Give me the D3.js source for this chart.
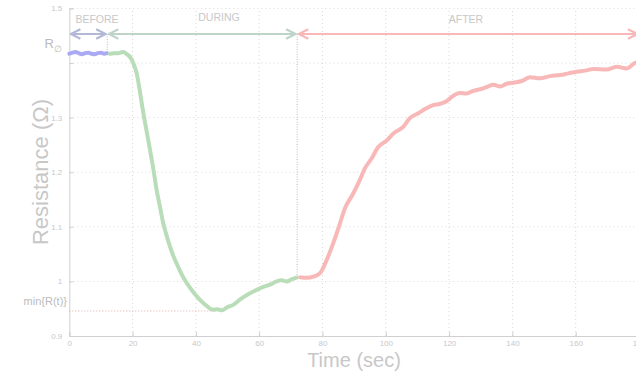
<!DOCTYPE html>
<html><head><meta charset="utf-8">
<script src="https://cdn.jsdelivr.net/npm/d3@7/dist/d3.min.js"></script>
<style>body{margin:0;background:#fff;}svg{display:block;font-family:"Liberation Sans",Arial,sans-serif;}</style>
</head><body>
<svg id="c" width="636" height="371"></svg>
<script>
const xTicks = [0,20,40,60,80,100,120,140,160,180];
const yTicks = [0.9,1,1.1,1.2,1.3,1.4,1.5];
const yTickLabels = ["0.9","1","1.1","1.2","1.3","","1.5"];
const R0 = 1.418, minR = 0.9458;
const tBefore = 12, tAfter = 72;
const beforeT = [0,1,2,3,4,5,6,7,8,9,10,11,12];
const beforeR = [1.417,1.419,1.420,1.418,1.416,1.418,1.419,1.417,1.416,1.418,1.419,1.417,1.418];
const duringT = [12.8,14,15.5,17,18.2,19.2,20.2,21.3,22.3,23.4,24.5,25.5,26.6,27.6,28.7,29.7,30.8,31.8,32.9,33.9,35.5,37.1,39.2,41.3,43.4,45.5,46.8,48.2,50,51.8,54,56.1,58.7,61.3,63.4,65.5,67.1,68.7,70.3,71.8];
const duringR = [1.417,1.418,1.418,1.420,1.416,1.411,1.400,1.381,1.348,1.308,1.273,1.241,1.204,1.167,1.135,1.106,1.083,1.064,1.046,1.033,1.013,0.997,0.980,0.966,0.955,0.948,0.949,0.947,0.953,0.957,0.967,0.975,0.983,0.990,0.994,1.000,1.002,1.000,1.004,1.007];
const afterT = [72.9,75,77.1,79.2,81.3,83.4,85.5,87.1,89.7,91.8,93.4,95.5,97.6,100.3,102.4,105.5,107.6,110.3,112.5,115,117,119.2,121.3,123.4,125.5,127.6,129.8,131.9,134,136.1,138.2,140.3,143,145.6,148.7,151.9,155.1,157.7,160.3,163,165.6,169.8,173,176.1,178.7,180];
const afterR = [1.0075,1.0065,1.0087,1.015,1.039,1.070,1.106,1.134,1.161,1.186,1.207,1.225,1.246,1.258,1.271,1.283,1.299,1.308,1.316,1.323,1.325,1.330,1.340,1.345,1.344,1.349,1.352,1.356,1.360,1.357,1.362,1.364,1.367,1.374,1.372,1.376,1.378,1.381,1.384,1.386,1.389,1.388,1.393,1.390,1.400,1.402];

const svg = d3.select("#c");
const x = d3.scaleLinear().domain([0,180]).range([69.3,639]);
const y = d3.scaleLinear().domain([0.9,1.5]).range([336,8.4]);
const grey = "#c8c8c8";

// grid
svg.append("g").selectAll("line").data(xTicks.slice(1)).join("line")
  .attr("x1",d=>x(d)).attr("x2",d=>x(d)).attr("y1",y(0.9)).attr("y2",y(1.5))
  .attr("stroke","#d8d8d8").attr("stroke-dasharray","1,3");
svg.append("g").selectAll("line").data(yTicks.slice(1)).join("line")
  .attr("x1",x(0)).attr("x2",x(180)).attr("y1",d=>y(d)).attr("y2",d=>y(d))
  .attr("stroke","#d8d8d8").attr("stroke-dasharray","1,3");

// axes
const xAxis = d3.axisBottom(x).tickValues(xTicks).tickSize(-4).tickPadding(4).tickFormat(d3.format("d"));
const gx = svg.append("g").attr("transform",`translate(0,${y(0.9)})`).call(xAxis);
const yAxis = d3.axisLeft(y).tickValues(yTicks).tickSize(-4).tickPadding(7).tickFormat((d,i)=>yTickLabels[i]);
const gy = svg.append("g").attr("transform",`translate(${x(0)},0)`).call(yAxis);
[gx,gy].forEach(g=>{
  g.select(".domain").attr("stroke","#d0d0d0");
  g.selectAll(".tick line").attr("stroke","#d0d0d0");
  g.selectAll(".tick text").attr("fill",grey).attr("font-size",8);
});

// min line
svg.append("line").attr("x1",x(0)).attr("x2",x(45.5)).attr("y1",y(minR)).attr("y2",y(minR))
  .attr("stroke","#e0a8a8").attr("stroke-dasharray","1,2").attr("stroke-width",1);
// vertical phase separators
svg.append("line").attr("x1",x(tBefore)).attr("x2",x(tBefore)).attr("y1",34).attr("y2",y(R0))
  .attr("stroke","#bbbbbb").attr("stroke-dasharray","1,1.5");
svg.append("line").attr("x1",x(tAfter)).attr("x2",x(tAfter)).attr("y1",34).attr("y2",y(1.0075))
  .attr("stroke","#bbbbbb").attr("stroke-dasharray","1,1.5");

// arrows
const defs = svg.append("defs");
function mk(id,col){
  defs.append("marker").attr("id",id).attr("viewBox","0 0 10 10").attr("refX",9).attr("refY",5)
    .attr("markerWidth",6).attr("markerHeight",6).attr("orient","auto-start-reverse")
    .append("path").attr("d","M1,1 L9,5 L1,9").attr("fill","none").attr("stroke",col).attr("stroke-width",1.8);
}
const phases = [
  {id:"ab",from:0,to:tBefore,col:"#b4b8d8"},
  {id:"ad",from:tBefore,to:tAfter,col:"#bed4c8"},
  {id:"aa",from:tAfter,to:180,col:"#f8b8b8"}
];
phases.forEach(p=>{
  mk(p.id,p.col);
  svg.append("line").attr("x1",x(p.from)+1.5).attr("x2",x(p.to)-1.5).attr("y1",34).attr("y2",34)
    .attr("stroke",p.col).attr("stroke-width",2)
    .attr("marker-start",`url(#${p.id})`).attr("marker-end",`url(#${p.id})`);
});
svg.append("text").attr("x",97).attr("y",23).attr("text-anchor","middle").attr("fill",grey).attr("font-size",10.5).text("BEFORE");
svg.append("text").attr("x",219).attr("y",21).attr("text-anchor","middle").attr("fill",grey).attr("font-size",10.5).text("DURING");
svg.append("text").attr("x",466).attr("y",23).attr("text-anchor","middle").attr("fill",grey).attr("font-size",10.5).text("AFTER");

// curves
const line = d3.line().x(d=>x(d[0])).y(d=>y(d[1])).curve(d3.curveMonotoneX);
const series = [
  {t:beforeT,r:beforeR,col:"#aaaaf4"},
  {t:duringT,r:duringR,col:"#b8ddb8"},
  {t:afterT,r:afterR,col:"#f9b8b8"}
];
series.forEach(s=>{
  svg.append("path").datum(s.t.map((t,i)=>[t,s.r[i]])).attr("d",line)
    .attr("fill","none").attr("stroke",s.col).attr("stroke-width",4)
    .attr("stroke-linejoin","round").attr("stroke-linecap","round");
});

// labels
const r0 = svg.append("text").attr("x",62).attr("y",48).attr("text-anchor","end").attr("fill","#bbbbbb").attr("font-size",13);
r0.append("tspan").text("R");
r0.append("tspan").attr("font-size",9).attr("dy",4).text("\u2205");
svg.append("text").attr("x",67).attr("y",305).attr("text-anchor","end").attr("fill","#bbbbbb").attr("font-size",11).text("min{R(t)}");
svg.append("text").attr("transform","translate(48,172) rotate(-90)").attr("text-anchor","middle")
  .attr("fill",grey).attr("font-size",22).text("Resistance (\u03A9)");
svg.append("text").attr("x",354).attr("y",367).attr("text-anchor","middle")
  .attr("fill",grey).attr("font-size",20).text("Time (sec)");
</script>
</body></html>
